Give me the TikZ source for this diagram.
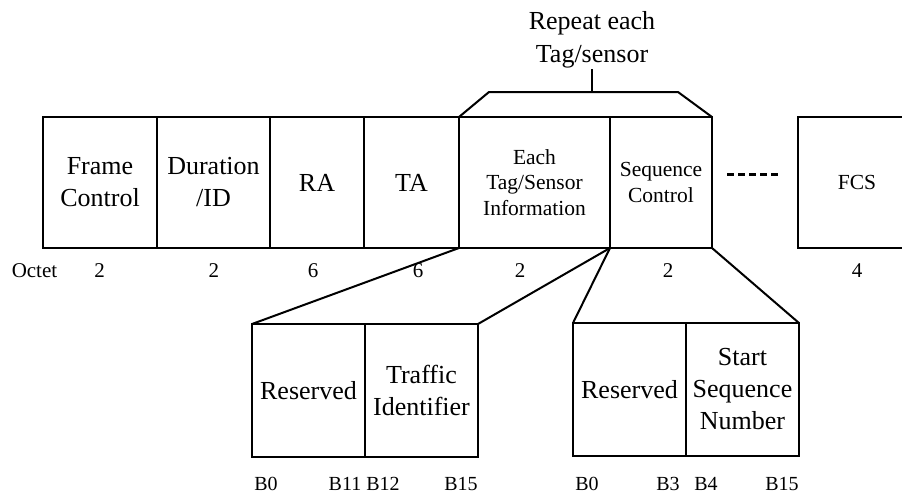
\documentclass[tikz,border=0pt]{standalone}
\usepackage{fontspec}
\setmainfont{Liberation Serif}
\usetikzlibrary{positioning,calc}
\tikzset{
	field/.style={
		rectangle,
		draw,
		line width=1pt,
		outer sep=0pt,
		inner sep=1pt,
		minimum height=65.5pt,
		align=center,
		font=\fontsize{13}{16}\selectfont
	},
	smallfield/.style={
		field,
		font=\fontsize{10.75}{12.75}\selectfont
	},
	subfield/.style={
		field,
		minimum width=56.5pt,
		minimum height=66.5pt
	},
	octet/.style={
		anchor=base,
		inner sep=0pt,
		font=\fontsize{10.5}{12}\selectfont
	},
	bitno/.style={
		anchor=base,
		inner sep=0pt,
		font=\fontsize{10}{12}\selectfont
	},
	fanline/.style={
		draw,
		line width=1pt
	},
	gapline/.style={
		line width=1.5pt,
		dash pattern=on 3.5pt off 2pt
	},
}

\begin{document}
\begin{tikzpicture}[x=0.5pt,y=-0.5pt]
\useasboundingbox (0,0) rectangle (902,494);
% frame fields
\node [field,minimum width=57pt,anchor=north west] (fc) at (43,117) {Frame\\Control};
\node [field,minimum width=56.5pt,right=0pt of fc] (dur) {Duration\\/ID};
\node [field,minimum width=47pt,right=0pt of dur] (ra) {RA};
\node [field,minimum width=47.5pt,right=0pt of ra] (ta) {TA};
\node [smallfield,minimum width=75.5pt,right=0pt of ta] (info) {Each\\Tag/Sensor\\Information};
\node [smallfield,minimum width=51pt,right=0pt of info] (seq) {Sequence\\Control};
\node [smallfield,minimum width=59pt,anchor=north west] (fcs) at (798,117) {FCS};
\draw[gapline,shorten <=7.5pt,shorten >=9pt] ([yshift=4pt]seq.east) -- ([yshift=4pt]fcs.west);

% repeated part
\coordinate (bl) at (489,92);
\coordinate (br) at (678,92);
\coordinate (bm) at (592,92);
\draw[fanline] (info.north west) -- (bl) -- (br) -- (seq.north east);
\node [above=11.5pt of bm,inner sep=0pt,align=center,font=\fontsize{13}{16.5}\selectfont] (rep) {Repeat each\\Tag/sensor};
\draw[fanline] (bm) -- (rep);

% sub fields
\node [subfield,anchor=north west] (res1) at (252,324) {Reserved};
\node [subfield,right=0pt of res1] (tid) {Traffic\\Identifier};
\node [subfield,anchor=north west] (res2) at (573,323) {Reserved};
\node [subfield,right=0pt of res2] (ssn) {Start\\Sequence\\Number};

\draw[fanline] (ta.south east) -- (res1.north west);
\draw[fanline] (info.south east) -- (tid.north east);
\draw[fanline] (info.south east) -- (res2.north west);
\draw[fanline] (seq.south east) -- (ssn.north east);

% sizes
\node [octet] (oct) at (34.5,277) {Octet};
\foreach \x/\n [count=\i] in {99.5/2,214/2,313/6,418/6,520/2,668/2,857/4}
	\node [octet] (o\i) at (\x,277) {\n};
\foreach \x/\b [count=\i] in {266/B0,345/B11,383/B12,461/B15,587/B0,668/B3,706/B4,782/B15}
	\node [bitno] (b\i) at (\x,490) {\b};
\end{tikzpicture}
\end{document}
